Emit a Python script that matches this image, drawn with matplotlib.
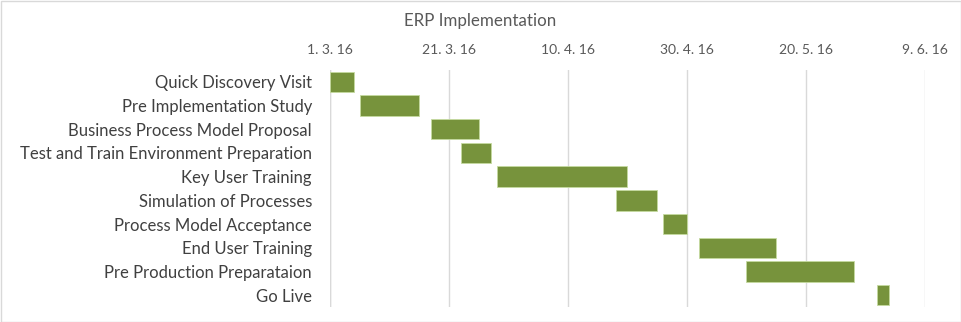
import matplotlib
matplotlib.use("Agg")
import matplotlib.pyplot as plt
import matplotlib.dates as mdates
from matplotlib.patches import Rectangle
import datetime as dt

plt.rcParams['font.family'] = ['Lato', 'DejaVu Sans']

tasks = ["Quick Discovery Visit", "Pre Implementation Study", "Business Process Model Proposal",
         "Test and Train Environment Preparation", "Key User Training", "Simulation of Processes",
         "Process Model Acceptance", "End User Training", "Pre Production Preparataion", "Go Live"]
starts = ["2016-03-01", "2016-03-06", "2016-03-18", "2016-03-23", "2016-03-29",
          "2016-04-18", "2016-04-26", "2016-05-02", "2016-05-10", "2016-06-01"]
durations = [4, 10, 8, 5, 22, 7, 4, 13, 18, 2]
tick_dates = ["2016-03-01", "2016-03-21", "2016-04-10", "2016-04-30", "2016-05-20", "2016-06-09"]
tick_labels = ["1. 3. 16", "21. 3. 16", "10. 4. 16", "30. 4. 16", "20. 5. 16", "9. 6. 16"]

W, H = 962, 322
fig = plt.figure(figsize=(W / 100, H / 100), dpi=100)
ax = fig.add_axes([330 / W, 1 - 307 / H, (925 - 330) / W, (307 - 70) / H])

start_nums = [mdates.date2num(dt.datetime.strptime(s, "%Y-%m-%d")) for s in starts]
ypos = list(range(len(tasks)))
ax.barh(ypos, durations, left=start_nums, height=0.86, color="#77933c",
        edgecolor="#c5dba0", linewidth=0.6, zorder=3)

tnums = [mdates.date2num(dt.datetime.strptime(s, "%Y-%m-%d")) for s in tick_dates]
ax.set_xlim(tnums[0], tnums[-1])
ax.set_ylim(len(tasks) - 0.5, -0.5)
ax.set_xticks(tnums)
ax.set_xticklabels(tick_labels)
ax.xaxis.tick_top()
ax.tick_params(axis='x', length=0, pad=10, labelsize=10, labelcolor="#595959")
ax.set_yticks(ypos)
ax.set_yticklabels(tasks)
ax.tick_params(axis='y', length=0, pad=13, labelsize=12, labelcolor="#404040")
ax.grid(axis='x', color="#d9d9d9", linewidth=1, zorder=0)
for s in ax.spines.values():
    s.set_visible(False)
ax.axvline(tnums[0], color="#d9d9d9", linewidth=1, zorder=1)

fig.text(480 / W, 1 - 21 / H, "ERP Implementation", ha='center', va='center',
         fontsize=12.2, color="#595959")
fig.patches.append(Rectangle((0.5 / W, 0.5 / H), 1 - 1.5 / W, 1 - 1.5 / H,
                             transform=fig.transFigure, fill=False,
                             edgecolor="#d9d9d9", linewidth=1))
fig.savefig("out.png", dpi=100)
